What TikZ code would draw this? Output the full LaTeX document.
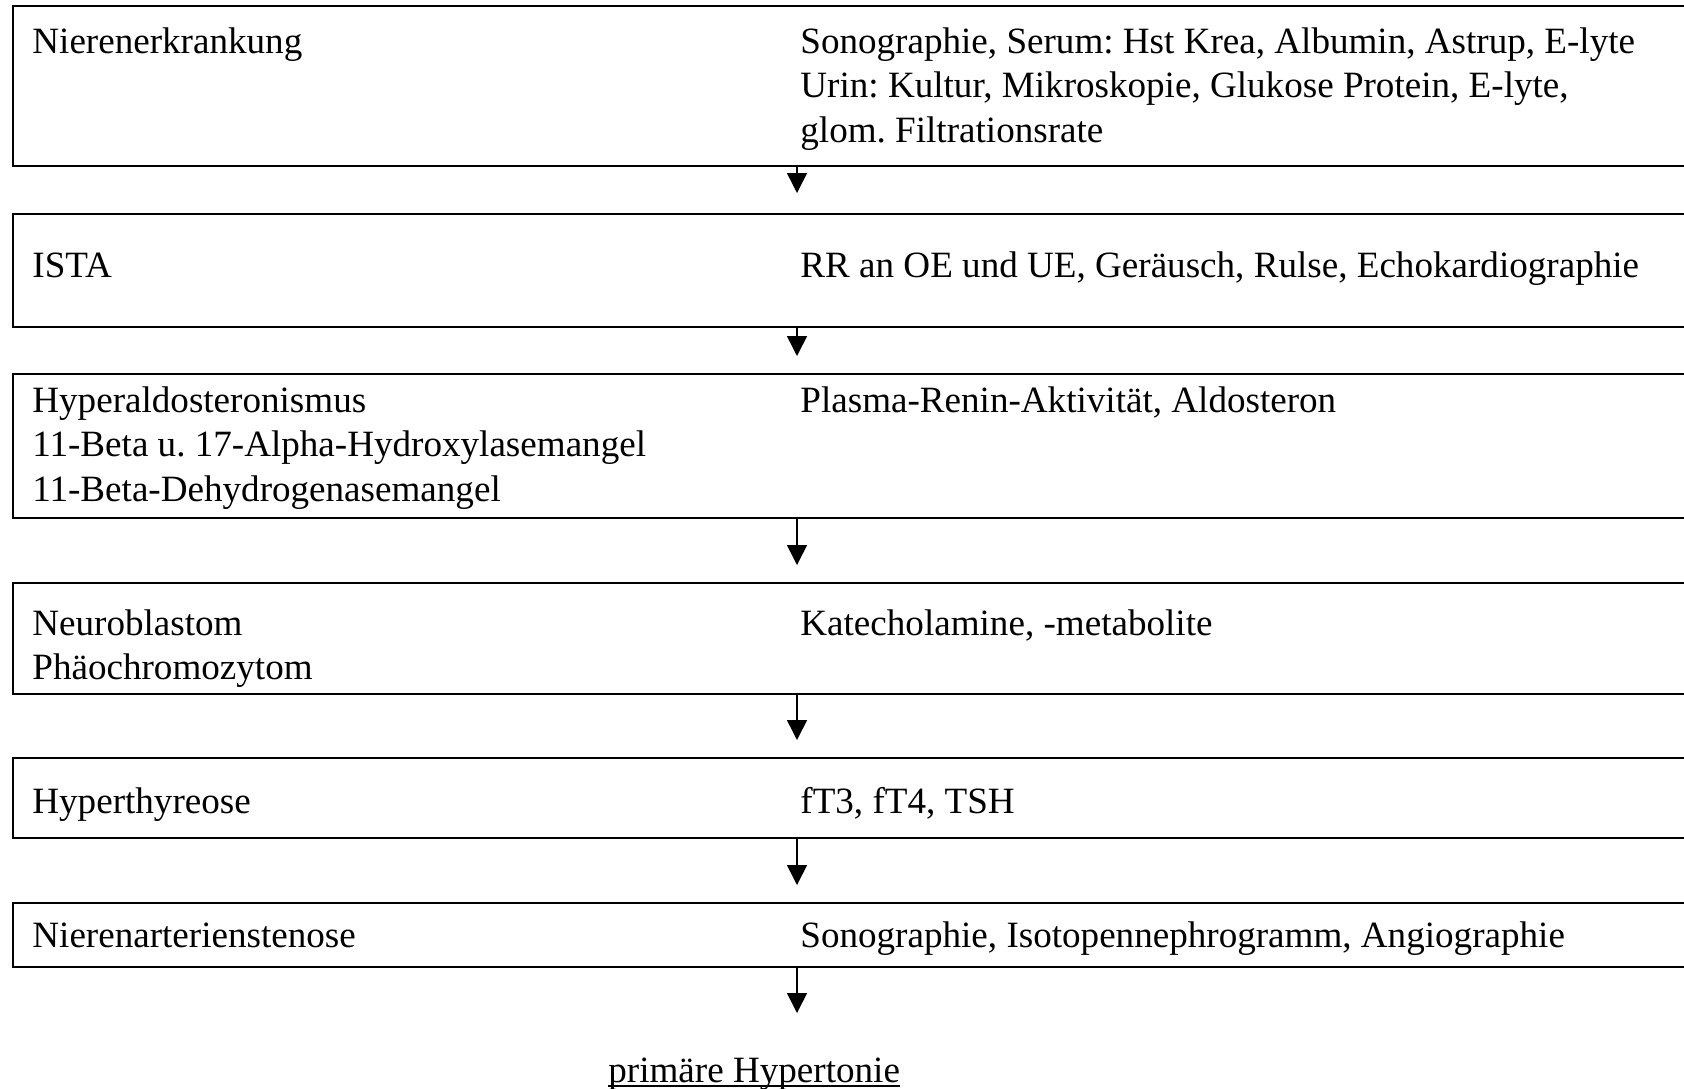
\documentclass[tikz,border=0pt]{standalone}
\usepackage{fontspec}
\setmainfont{Liberation Serif}
\usetikzlibrary{arrows.meta}
\frenchspacing
\begin{document}
\frenchspacing
\begin{tikzpicture}[x=0.5pt,y=-0.5pt,
  box/.style={draw, line width=1pt, anchor=north west, inner sep=0pt, minimum width=846pt},
  txt/.style={anchor=base west, inner sep=0pt, font=\fontsize{18.55}{22.25}\selectfont\frenchspacing},
  arr/.style={-{Triangle[width=10pt,length=10pt]}, line width=0.75pt, shorten >=8.5pt}]
\useasboundingbox (0,0) rectangle (1684,1088);
\coordinate (ax) at (797,0);
% boxes
\node[box, minimum height=80pt]   (b1) at (12,5)   {};
\node[box, minimum height=56.5pt] (b2) at (12,213) {};
\node[box, minimum height=72pt]   (b3) at (12,373) {};
\node[box, minimum height=55.5pt] (b4) at (12,582) {};
\node[box, minimum height=40pt]   (b5) at (12,757) {};
\node[box, minimum height=32pt]   (b6) at (12,902) {};
% left texts
\node[txt] (l1) at (32,53)  {Nierenerkrankung};
\node[txt] (l2) at (32,277) {ISTA};
\node[txt] (l3) at (32,412) {\begin{tabular}[t]{@{}l@{}}Hyperaldosteronismus\\11-Beta u. 17-Alpha-Hydroxylasemangel\\11-Beta-Dehydrogenasemangel\end{tabular}};
\node[txt] (l4) at (32,635) {\begin{tabular}[t]{@{}l@{}}Neuroblastom\\Phäochromozytom\end{tabular}};
\node[txt] (l5) at (32,813) {Hyperthyreose};
\node[txt] (l6) at (32,947) {Nierenarterienstenose};
% right texts
\node[txt] (r1) at (800,53)  {\begin{tabular}[t]{@{}l@{}}Sonographie, Serum: Hst Krea, Albumin, Astrup, E-lyte\\Urin: Kultur, Mikroskopie, Glukose Protein, E-lyte,\\glom. Filtrationsrate\end{tabular}};
\node[txt] (r2) at (800,277) {RR an OE und UE, Geräusch, Rulse, Echokardiographie};
\node[txt] (r3) at (800,412) {Plasma-Renin-Aktivität, Aldosteron};
\node[txt] (r4) at (800,635) {Katecholamine, -metabolite};
\node[txt] (r5) at (800,813) {fT3, fT4, TSH};
\node[txt] (r6) at (800,947) {Sonographie, Isotopennephrogramm, Angiographie};
% final
\node[txt] (fin) at (608,1082) {primäre Hypertonie};
\draw[line width=1pt] ([yshift=-1.8pt]fin.base west) -- ([yshift=-1.8pt]fin.base east);
\coordinate (e6) at (797,1013);
% arrows
\draw[arr, shorten >=10pt] (b1.south -| ax) -- (b2.north -| ax);
\draw[arr] (b2.south -| ax) -- (b3.north -| ax);
\draw[arr] (b3.south -| ax) -- (b4.north -| ax);
\draw[arr] (b4.south -| ax) -- (b5.north -| ax);
\draw[arr] (b5.south -| ax) -- (b6.north -| ax);
\draw[arr, shorten >=0pt] (b6.south -| ax) -- (e6);
\end{tikzpicture}
\end{document}
